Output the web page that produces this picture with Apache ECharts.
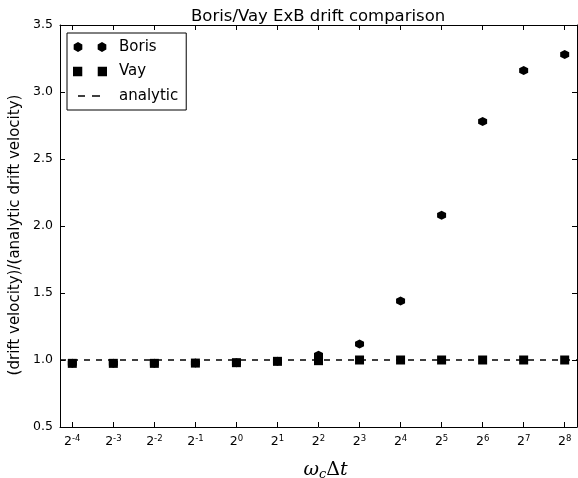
<!DOCTYPE html>
<html>
<head>
<meta charset="utf-8">
<script src="https://cdn.jsdelivr.net/npm/echarts@6/dist/echarts.min.js"></script>
<style>html,body{margin:0;padding:0;background:#fff}#main{width:578px;height:478px}</style>
</head>
<body>
<div id="main"></div>
<script>
// exponents of omega_c * dt (x = 2^k)
var exponents = [-4, -3, -2, -1, 0, 1, 2, 3, 4, 5, 6, 7, 8];
var borisRatio = [0.975, 0.975, 0.975, 0.977, 0.98, 0.99, 1.035, 1.12, 1.44, 2.08, 2.78, 3.16, 3.28];
var vayRatio = [0.975, 0.975, 0.975, 0.977, 0.98, 0.99, 0.995, 1.0, 1.0, 1.0, 1.0, 1.0, 1.0];
var analyticValue = 1.0;
var xRange = [-4.3, 8.3];
var yTicks = [0.5, 1.0, 1.5, 2.0, 2.5, 3.0, 3.5];

var myChart = echarts.init(document.getElementById('main'));

function pairs(vals) {
  return exponents.map(function (k, i) { return [k, vals[i]]; });
}

var hexPath = 'path://M5,0L9.33,2.5L9.33,7.5L5,10L0.67,7.5L0.67,2.5Z';
// legend icons: two markers like matplotlib numpoints=2 (34 x 10 box)
var hexLegend = 'path://M5,0L9.33,2.5L9.33,7.5L5,10L0.67,7.5L0.67,2.5ZM29,0L33.33,2.5L33.33,7.5L29,10L24.67,7.5L24.67,2.5Z';
var sqLegend = 'path://M0.5,0.5L9.5,0.5L9.5,9.5L0.5,9.5ZM24.5,0.5L33.5,0.5L33.5,9.5L24.5,9.5Z';
var dashLegend = 'path://M0,0L34,0L34,0.01L0,0.01ZM5,4.2L12,4.2L12,5.8L5,5.8ZM19,4.2L27,4.2L27,5.8L19,5.8ZM0,9.99L34,9.99L34,10L0,10Z';

var tickStyle = {inside: true, length: 5, lineStyle: {color: '#000'}};

var option = {
  animation: false,
  textStyle: {fontFamily: 'DejaVu Sans'},
  title: {
    text: 'Boris/Vay ExB drift comparison',
    left: 186,
    top: 3,
    textStyle: {fontSize: 16.5, fontWeight: 'normal', color: '#000'}
  },
  legend: {
    orient: 'vertical',
    left: 67,
    top: 33,
    padding: [5, 8, 5, 6],
    itemGap: 6.5,
    itemWidth: 34,
    itemHeight: 10,
    borderColor: '#000',
    borderWidth: 1,
    borderRadius: 0,
    backgroundColor: '#fff',
    textStyle: {fontSize: 15, color: '#000', lineHeight: 18, padding: [0, 0, 0, 7]},
    data: [
      {name: 'Boris', icon: hexLegend},
      {name: 'Vay', icon: sqLegend},
      {name: 'analytic', icon: dashLegend}
    ]
  },
  grid: {left: 60, right: 1, top: 25, bottom: 51, outerBoundsMode: 'none'},
  xAxis: [{
    type: 'value',
    min: xRange[0],
    max: xRange[1],
    axisLine: {onZero: false, lineStyle: {color: '#000'}},
    axisTick: Object.assign({customValues: exponents}, tickStyle),
    splitLine: {show: false},
    axisLabel: {
      customValues: exponents,
      margin: 7,
      formatter: function (v) { return '{b|2}{s|' + v + '}'; },
      rich: {
        b: {fontSize: 12.5, color: '#000', lineHeight: 16},
        s: {fontSize: 8.5, color: '#000', verticalAlign: 'top', lineHeight: 10}
      }
    },
    name: '{w|ω}{c|c}{d|Δ}{w|t}',
    nameLocation: 'middle',
    nameGap: 33,
    nameTextStyle: {
      padding: [0, 0, 0, 14],
      rich: {
        w: {fontFamily: 'DejaVu Serif', fontStyle: 'italic', fontSize: 19, color: '#000'},
        c: {fontFamily: 'DejaVu Serif', fontStyle: 'italic', fontSize: 13, color: '#000', verticalAlign: 'bottom', padding: [8, 0, 0, 0]},
        d: {fontFamily: 'DejaVu Serif', fontSize: 19, color: '#000'}
      }
    }
  }, {
    type: 'value',
    position: 'top',
    min: xRange[0],
    max: xRange[1],
    axisLine: {onZero: false, lineStyle: {color: '#000'}},
    axisTick: Object.assign({customValues: exponents}, tickStyle),
    axisLabel: {show: false},
    splitLine: {show: false}
  }],
  yAxis: [{
    type: 'value',
    min: yTicks[0],
    max: yTicks[yTicks.length - 1],
    interval: 0.5,
    axisLine: {show: true, onZero: false, lineStyle: {color: '#000'}},
    axisTick: tickStyle,
    splitLine: {show: false},
    axisLabel: {
      fontSize: 12.5, color: '#000', margin: 7,
      formatter: function (v) { return v.toFixed(1); }
    },
    name: '(drift velocity)/(analytic drift velocity)',
    nameLocation: 'middle',
    nameRotate: 90,
    nameGap: 35,
    nameTextStyle: {fontSize: 15, color: '#000', padding: [0, 18, 0, 0]}
  }, {
    type: 'value',
    position: 'right',
    min: yTicks[0],
    max: yTicks[yTicks.length - 1],
    interval: 0.5,
    axisLine: {show: true, onZero: false, lineStyle: {color: '#000'}},
    axisTick: tickStyle,
    axisLabel: {show: false},
    splitLine: {show: false}
  }],
  series: [{
    name: 'analytic',
    type: 'line',
    data: [[xRange[0], analyticValue], [xRange[1], analyticValue]],
    symbol: 'none',
    lineStyle: {color: '#000', width: 1.5, type: [6, 6]},
    itemStyle: {color: '#000'},
    z: 1
  }, {
    name: 'Boris',
    type: 'scatter',
    data: pairs(borisRatio),
    symbol: hexPath,
    symbolSize: 9,
    itemStyle: {color: '#000', opacity: 1},
    z: 2
  }, {
    name: 'Vay',
    type: 'scatter',
    data: pairs(vayRatio),
    symbol: 'rect',
    symbolSize: 9,
    itemStyle: {color: '#000', opacity: 1},
    z: 3
  }]
};

myChart.setOption(option);
</script>
</body>
</html>
